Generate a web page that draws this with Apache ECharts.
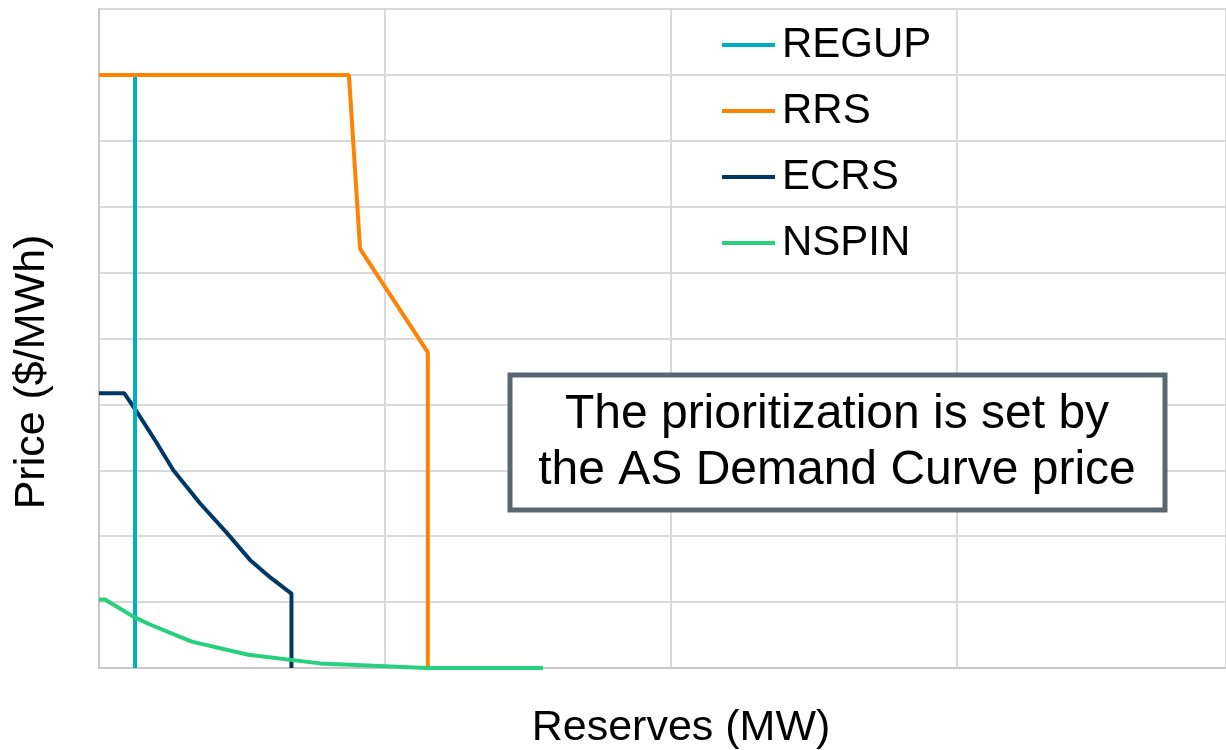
<!DOCTYPE html>
<html>
<head>
<meta charset="utf-8">
<script src="https://cdn.jsdelivr.net/npm/echarts@6/dist/echarts.min.js"></script>
<style>
  html, body { margin: 0; padding: 0; background: #fff; }
  #chart { width: 1226px; height: 750px; }
</style>
</head>
<body>
<div id="chart"></div>
<script>
// reserve curves, [MW, $/MWh] in chart units (no tick labels in the original)
const seriesNames = ["REGUP", "RRS", "ECRS", "NSPIN"];
const regupData = [[0, 900], [126, 900], [126, 0]];
const rrsData = [[0, 900], [874, 900], [913, 636], [1150, 479], [1150, 0]];
const ecrsData = [
  [0, 417], [88, 417], [132, 389], [200, 343], [260, 300], [353, 250],
  [447, 205], [528, 164], [600, 137], [673, 113], [673, 0]
];
const nspinData = [
  [0, 104], [21, 104], [120, 78], [178, 66], [324, 40],
  [522, 20], [773, 7], [1146, 0], [1553, 0]
];
const colors = ["#00AEC7", "#FF8200", "#003865", "#26D07C"];
const noteLines = ["The prioritization is set by", "the AS Demand Curve price"];

const chart = echarts.init(document.getElementById("chart"));

const font = "Liberation Sans, Arial, sans-serif";

function line(name, data, color, z) {
  return {
    name: name,
    type: "line",
    data: data,
    color: color,
    showSymbol: false,
    symbol: "none",
    z: z,
    lineStyle: { width: 4, color: color },
    animation: false,
  };
}

const option = {
  animation: false,
  grid: { left: 99, top: 9, right: 0, height: 659 },
  legend: {
    orient: "vertical",
    left: 722,
    top: 17,
    padding: [5, 0, 5, 0],
    itemWidth: 53,
    itemHeight: 4,
    itemGap: 20,
    icon: "rect",
    data: seriesNames,
    textStyle: { fontSize: 42, fontFamily: font, color: "#000", lineHeight: 46, padding: [0, 0, 0, 2] },
  },
  xAxis: {
    type: "value",
    min: 0,
    max: 3941,
    interval: 1000,
    axisLabel: { show: false },
    axisTick: { show: false },
    axisLine: { show: true, lineStyle: { color: "#c8c8c8", width: 2 } },
    splitLine: { show: true, lineStyle: { color: "#d9d9d9", width: 2 } },
  },
  yAxis: {
    type: "value",
    min: 0,
    max: 1000,
    interval: 100,
    axisLabel: { show: false },
    axisTick: { show: false },
    axisLine: { show: true, lineStyle: { color: "#c8c8c8", width: 2 } },
    splitLine: { show: true, lineStyle: { color: "#d9d9d9", width: 2 } },
  },
  series: [
    line("REGUP", regupData, colors[0], 3),
    line("RRS", rrsData, colors[1], 4),
    line("ECRS", ecrsData, colors[2], 2),
    line("NSPIN", nspinData, colors[3], 5),
  ],
  graphic: [
    {
      type: "text",
      x: 32,
      y: 372,
      rotation: Math.PI / 2,
      style: {
        text: "Price ($/MWh)",
        font: "43px " + font,
        fill: "#000",
        align: "center",
        verticalAlign: "middle",
      },
    },
    {
      type: "text",
      x: 681,
      y: 728,
      style: {
        text: "Reserves (MW)",
        font: "43px " + font,
        fill: "#000",
        align: "center",
        verticalAlign: "middle",
      },
    },
    {
      type: "rect",
      shape: { x: 510, y: 375, width: 655, height: 135 },
      style: { fill: "#fff", stroke: "#5B6770", lineWidth: 5 },
      z: 10,
    },
    {
      type: "text",
      x: 837,
      y: 443,
      z: 11,
      style: {
        text: noteLines.join("\n"),
        font: "48px " + font,
        lineHeight: 56,
        fill: "#000",
        align: "center",
        verticalAlign: "middle",
      },
    },
  ],
};

chart.setOption(option);
</script>
</body>
</html>
